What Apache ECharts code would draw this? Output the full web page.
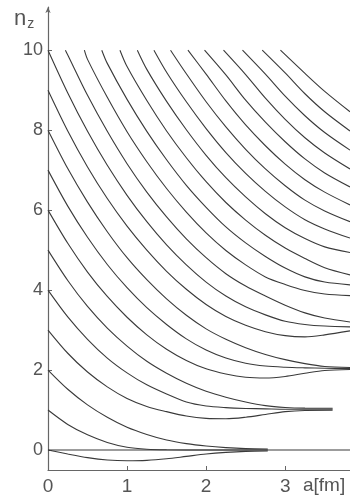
<!DOCTYPE html>
<html>
<head>
<meta charset="utf-8">
<script src="https://cdn.jsdelivr.net/npm/echarts@6/dist/echarts.min.js"></script>
<style>
  html, body { margin: 0; padding: 0; background: #fff; }
  #chart { width: 350px; height: 497px; }
</style>
</head>
<body>
<div id="chart"></div>
<script>
// n_z levels against the distance a [fm] as [a, n_z] points.
// Levels come in groups of three that close up at large a.
const zeroLine = [[0, 0], [3.82, 0]];

// group 0 (starts at n_z = 0, 1, 2)
const g0a = [[0,0],[0.25,-0.1],[0.5,-0.19],[0.75,-0.25],[1,-0.27],[1.25,-0.26],[1.5,-0.22],[1.75,-0.16],[2,-0.1],[2.25,-0.06],[2.5,-0.035],[2.78,-0.025]];
const g0b = [[0,1],[0.25,0.64],[0.5,0.38],[0.75,0.19],[1,0.07],[1.25,0.02],[1.5,0.005],[2,0],[2.78,0]];
const g0c = [[0,2],[0.25,1.52],[0.5,1.13],[0.75,0.82],[1,0.57],[1.25,0.39],[1.5,0.25],[1.75,0.16],[2,0.1],[2.25,0.06],[2.5,0.035],[2.78,0.025]];

// group 1 (3, 4, 5)
const g1a = [[0,3],[0.25,2.42],[0.5,1.95],[0.75,1.58],[1,1.29],[1.25,1.09],[1.5,0.96],[1.75,0.85],[2,0.79],[2.25,0.78],[2.5,0.82],[2.75,0.89],[3,0.96],[3.25,0.99],[3.6,0.995]];
const g1b = [[0,4],[0.25,3.33],[0.5,2.77],[0.75,2.3],[1,1.93],[1.25,1.63],[1.5,1.4],[1.75,1.2],[2,1.1],[2.25,1.06],[2.5,1.04],[2.75,1.03],[3,1.02],[3.6,1.02]];
const g1c = [[0,5],[0.25,4.24],[0.5,3.59],[0.75,3.05],[1,2.6],[1.25,2.22],[1.5,1.92],[1.75,1.67],[2,1.47],[2.25,1.32],[2.5,1.2],[2.75,1.11],[3,1.065],[3.25,1.048],[3.6,1.045]];

// group 2 (6, 7, 8)
const g2a = [[0,6],[0.25,5.17],[0.5,4.45],[0.75,3.84],[1,3.32],[1.25,2.88],[1.5,2.52],[1.75,2.24],[2,2.03],[2.25,1.9],[2.5,1.82],[2.75,1.8],[3,1.84],[3.25,1.92],[3.5,1.99],[3.82,2.015]];
const g2b = [[0,7],[0.25,6.1],[0.5,5.32],[0.75,4.64],[1,4.06],[1.25,3.56],[1.5,3.14],[1.75,2.78],[2,2.5],[2.25,2.3],[2.5,2.17],[2.75,2.1],[3,2.07],[3.25,2.055],[3.5,2.045],[3.82,2.04]];
const g2c = [[0,8],[0.25,7.04],[0.5,6.2],[0.75,5.46],[1,4.81],[1.25,4.26],[1.5,3.78],[1.75,3.37],[2,3.03],[2.25,2.77],[2.5,2.56],[2.75,2.39],[3,2.26],[3.25,2.16],[3.5,2.09],[3.82,2.065]];

// group 3 (9, 10 and the first line coming in at the top)
const g3a = [[0,9],[0.25,7.98],[0.5,7.08],[0.75,6.29],[1,5.6],[1.25,5.0],[1.5,4.47],[1.75,4.02],[2,3.64],[2.25,3.34],[2.5,3.12],[2.75,2.96],[3,2.86],[3.25,2.83],[3.5,2.88],[3.82,2.98]];
const g3b = [[0,10],[0.25,8.93],[0.5,7.97],[0.75,7.12],[1,6.37],[1.25,5.71],[1.5,5.13],[1.75,4.63],[2,4.2],[2.25,3.85],[2.5,3.58],[2.75,3.38],[3,3.22],[3.25,3.14],[3.5,3.1],[3.82,3.08]];
const g3c = [[0.22,10],[0.25,9.88],[0.5,8.87],[0.75,7.97],[1,7.16],[1.25,6.45],[1.5,5.83],[1.75,5.28],[2,4.81],[2.25,4.41],[2.5,4.1],[2.75,3.85],[3,3.62],[3.25,3.43],[3.5,3.3],[3.82,3.2]];

// groups 4 - 7 enter through the top edge (n_z = 10)
const g4a = [[0.46,10],[0.5,9.77],[0.75,8.82],[1,7.96],[1.25,7.21],[1.5,6.54],[1.75,5.95],[2,5.43],[2.25,4.99],[2.5,4.63],[2.75,4.33],[3,4.14],[3.25,3.99],[3.5,3.9],[3.82,3.86]];
const g4b = [[0.68,10],[0.75,9.67],[1,8.77],[1.25,7.97],[1.5,7.26],[1.75,6.62],[2,6.07],[2.25,5.58],[2.5,5.18],[2.75,4.84],[3,4.55],[3.25,4.33],[3.5,4.2],[3.82,4.13]];
const g4c = [[0.91,10],[1,9.59],[1.25,8.74],[1.5,7.98],[1.75,7.31],[2,6.71],[2.25,6.19],[2.5,5.75],[2.75,5.37],[3,5.05],[3.25,4.79],[3.5,4.56],[3.82,4.38]];

const g5a = [[1.13,10],[1.25,9.52],[1.5,8.72],[1.75,8.01],[2,7.37],[2.25,6.81],[2.5,6.33],[2.75,5.91],[3,5.56],[3.25,5.29],[3.5,5.08],[3.82,4.94]];
const g5b = [[1.34,10],[1.5,9.45],[1.75,8.71],[2,8.04],[2.25,7.44],[2.5,6.92],[2.75,6.47],[3,6.08],[3.25,5.76],[3.5,5.53],[3.82,5.3]];
const g5c = [[1.55,10],[1.75,9.41],[2,8.71],[2.25,8.08],[2.5,7.52],[2.75,7.03],[3,6.61],[3.25,6.25],[3.5,5.98],[3.82,5.71]];

const g6a = [[1.77,10],[2,9.4],[2.25,8.73],[2.5,8.13],[2.75,7.61],[3,7.15],[3.25,6.76],[3.5,6.45],[3.82,6.13]];
const g6b = [[1.98,10],[2.25,9.38],[2.5,8.75],[2.75,8.2],[3,7.71],[3.25,7.28],[3.5,6.93],[3.82,6.58]];
const g6c = [[2.22,10],[2.5,9.39],[2.75,8.8],[3,8.27],[3.25,7.81],[3.5,7.43],[3.82,7.03]];

const g7a = [[2.46,10],[2.75,9.4],[3,8.85],[3.25,8.36],[3.5,7.94],[3.82,7.5]];
const g7b = [[2.71,10],[3,9.43],[3.25,8.91],[3.5,8.46],[3.82,7.98]];
const g7c = [[2.94,10],[3.25,9.42],[3.5,8.97],[3.82,8.46]];

const xTicks = [0, 1, 2, 3];
const yTicks = [0, 2, 4, 6, 8, 10];

const curves = [g0a, g0b, g0c, g1a, g1b, g1c, g2a, g2b, g2c, g3a, g3b, g3c,
  g4a, g4b, g4c, g5a, g5b, g5c, g6a, g6b, g6c, g7a, g7b, g7c];

const axisGrey = "#666";
const labelFont = "Liberation Sans";

const chart = echarts.init(document.getElementById("chart"), null, { renderer: "canvas" });

const series = curves.map((pts) => ({
  type: "line",
  data: pts,
  showSymbol: false,
  smooth: 0.3,
  silent: true,
  lineStyle: { color: "#3a3a3a", width: 1.1 },
}));

// reference line at n_z = 0 across the full width
series.push({
  type: "line",
  data: zeroLine,
  showSymbol: false,
  silent: true,
  lineStyle: { color: "#3a3a3a", width: 1.1 },
});

chart.setOption({
  animation: false,
  backgroundColor: "#fff",
  grid: { left: 48, right: 0, top: 7, bottom: 27 },
  xAxis: {
    type: "value",
    min: 0,
    max: 3.82,
    axisLine: { onZero: false, lineStyle: { color: axisGrey, width: 1.2 } },
    axisTick: { inside: true, length: 4, customValues: [1, 2, 3], lineStyle: { color: axisGrey } },
    axisLabel: { customValues: xTicks, fontSize: 19, color: "#555", fontFamily: labelFont, margin: 7 },
    splitLine: { show: false },
  },
  yAxis: {
    type: "value",
    min: -0.5,
    max: 11.08,
    axisLine: {
      show: true,
      symbol: ["none", "arrow"],
      symbolSize: [4, 6],
      lineStyle: { color: axisGrey, width: 1.2 },
    },
    axisTick: { show: true, inside: true, length: 4, customValues: yTicks, lineStyle: { color: axisGrey } },
    axisLabel: { customValues: yTicks, fontSize: 18, color: "#555", fontFamily: labelFont, margin: 5 },
    splitLine: { show: false },
  },
  graphic: [
    {
      type: "text",
      left: 14,
      top: 8,
      style: {
        text: "{n|n}{z|z}",
        rich: {
          n: { fontSize: 22, fontFamily: labelFont, fill: "#555" },
          z: { fontSize: 14, fontFamily: labelFont, fill: "#555", padding: [10, 0, 0, 1] },
        },
      },
    },
    {
      type: "text",
      left: 303,
      top: 476,
      style: { text: "a[fm]", fontSize: 19, fontFamily: labelFont, fill: "#555" },
    },
  ],
  series: series,
});
</script>
</body>
</html>
